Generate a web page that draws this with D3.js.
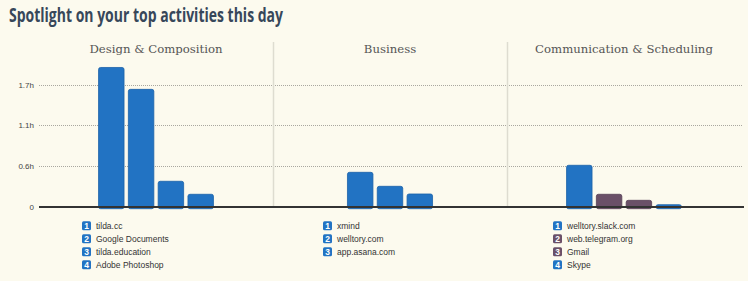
<!DOCTYPE html>
<html>
<head>
<meta charset="utf-8">
<script src="https://cdn.jsdelivr.net/npm/d3@7"></script>
<style>
  html, body { margin: 0; padding: 0; background: #fcfaee; }
  svg { display: block; }
</style>
</head>
<body>
<svg id="chart" width="748" height="281"></svg>
<script>
// categories (panels)
const categories = ["Design & Composition", "Business", "Communication & Scheduling"];

// apps per category, in rank order
const designApps = ["tilda.cc", "Google Documents", "tilda.education", "Adobe Photoshop"];
const businessApps = ["xmind", "welltory.com", "app.asana.com"];
const commApps = ["welltory.slack.com", "web.telegram.org", "Gmail", "Skype"];

// hours spent
const designHours = [1.94, 1.635, 0.354, 0.173];
const businessHours = [0.479, 0.284, 0.177];
const commHours = [0.577, 0.173, 0.089, 0.024];

// productivity group of each app (drives colour)
const designKinds = ["productive", "productive", "productive", "productive"];
const businessKinds = ["productive", "productive", "productive"];
const commKinds = ["productive", "distracting", "distracting", "productive"];

// y ticks (hours) and their labels
const tickValues = [0, 0.5667, 1.1333, 1.7];
const tickLabels = ["0", "0.6h", "1.1h", "1.7h"];

const panels = [
  { name: categories[0], apps: designApps, hours: designHours, kinds: designKinds },
  { name: categories[1], apps: businessApps, hours: businessHours, kinds: businessKinds },
  { name: categories[2], apps: commApps, hours: commHours, kinds: commKinds },
];

const settings = {
  width: 748,
  height: 281,
  left: 39,
  right: 741,
  baseline: 206.7,
  top: 42,
  step: 29.8,
  barPadding: 0.145,
  legendOffsets: [43, 50, 46],
  legendTop: 225.7,
  legendRow: 13,
};

const color = d3.scaleOrdinal()
  .domain(["productive", "distracting"])
  .range(["#2273c3", "#6a5068"]);
const stroke = d3.scaleOrdinal()
  .domain(["productive", "distracting"])
  .range(["#1c62a8", "#574057"]);

const svg = d3.select("#chart");

svg.append("text")
  .attr("x", 9)
  .attr("y", 21.5)
  .attr("font-family", "'Open Sans', sans-serif")
  .attr("font-weight", 700)
  .attr("font-size", 19)
  .attr("fill", "#37475a")
  .attr("textLength", 274)
  .attr("lengthAdjust", "spacingAndGlyphs")
  .text("Spotlight on your top activities this day");

const y = d3.scaleLinear()
  .domain([0, 1.7])
  .range([settings.baseline, 84.7]);

const panelX = d3.scaleBand()
  .domain(categories)
  .range([settings.left, settings.left + 234 * 3])
  .padding(0);

// grid lines
const grid = svg.append("g").attr("class", "grid");
grid.selectAll("line")
  .data(tickValues.slice(1))
  .join("line")
  .attr("x1", settings.left)
  .attr("x2", 743)
  .attr("y1", d => Math.round(y(d)) + 0.5)
  .attr("y2", d => Math.round(y(d)) + 0.5)
  .attr("stroke", "#a9a79f")
  .attr("stroke-width", 1)
  .attr("stroke-dasharray", "1 1");

// y axis labels
const yAxis = d3.axisLeft(y)
  .tickValues(tickValues)
  .tickFormat((d, i) => tickLabels[i])
  .tickSize(0)
  .tickPadding(5);

svg.append("g")
  .attr("transform", `translate(${settings.left},0)`)
  .call(yAxis)
  .call(g => g.select(".domain").remove())
  .call(g => g.selectAll("text")
    .attr("font-family", "'Liberation Sans', Arial, sans-serif")
    .attr("font-size", 8)
    .attr("fill", "#444"));

// panel separators
svg.append("g")
  .selectAll("line")
  .data(categories.slice(1))
  .join("line")
  .attr("x1", d => panelX(d) + 0.5)
  .attr("x2", d => panelX(d) + 0.5)
  .attr("y1", settings.top)
  .attr("y2", settings.baseline)
  .attr("stroke", "#dedcd0")
  .attr("stroke-width", 1.5);

panels.forEach((panel, pi) => {
  const x0 = panelX(panel.name);
  const center = x0 + panelX.bandwidth() / 2;
  const n = panel.apps.length;

  const g = svg.append("g").attr("class", "panel");

  g.append("text")
    .attr("x", center)
    .attr("y", 53)
    .attr("text-anchor", "middle")
    .attr("font-family", "'DejaVu Serif', Georgia, serif")
    .attr("font-size", 11.7)
    .attr("fill", "#555")
    .text(panel.name);

  const x = d3.scaleBand()
    .domain(d3.range(n))
    .range([center - n * settings.step / 2, center + n * settings.step / 2])
    .paddingInner(settings.barPadding)
    .paddingOuter(settings.barPadding / 2);

  g.selectAll("rect.bar")
    .data(panel.hours)
    .join("rect")
    .attr("class", "bar")
    .attr("x", (d, i) => x(i))
    .attr("width", x.bandwidth())
    .attr("y", d => Math.min(y(d), settings.baseline - 2))
    .attr("height", d => settings.baseline - Math.min(y(d), settings.baseline - 2) + 2)
    .attr("rx", 2)
    .attr("fill", (d, i) => color(panel.kinds[i]))
    .attr("stroke", (d, i) => stroke(panel.kinds[i]))
    .attr("stroke-width", 0.8);

  // legend
  const lx = x0 + settings.legendOffsets[pi];
  const legend = g.selectAll("g.legend")
    .data(panel.apps)
    .join("g")
    .attr("class", "legend")
    .attr("transform", (d, i) => `translate(${lx},${settings.legendTop + i * settings.legendRow})`);

  legend.append("rect")
    .attr("x", 0)
    .attr("y", -4.5)
    .attr("width", 9)
    .attr("height", 9)
    .attr("rx", 1.5)
    .attr("fill", (d, i) => color(panel.kinds[i]));

  legend.append("text")
    .attr("x", 4.5)
    .attr("y", 3.3)
    .attr("text-anchor", "middle")
    .attr("font-family", "'Liberation Sans', Arial, sans-serif")
    .attr("font-weight", 700)
    .attr("font-size", 8.5)
    .attr("fill", "#fff")
    .text((d, i) => i + 1);

  legend.append("text")
    .attr("x", 14)
    .attr("y", 3)
    .attr("font-family", "'Liberation Sans', Arial, sans-serif")
    .attr("font-size", 8.5)
    .attr("fill", "#333")
    .text(d => d);
});

// baseline
svg.append("line")
  .attr("x1", settings.left)
  .attr("x2", 744)
  .attr("y1", settings.baseline + 0.3)
  .attr("y2", settings.baseline + 0.3)
  .attr("stroke", "#333")
  .attr("stroke-width", 2);
</script>
</body>
</html>
